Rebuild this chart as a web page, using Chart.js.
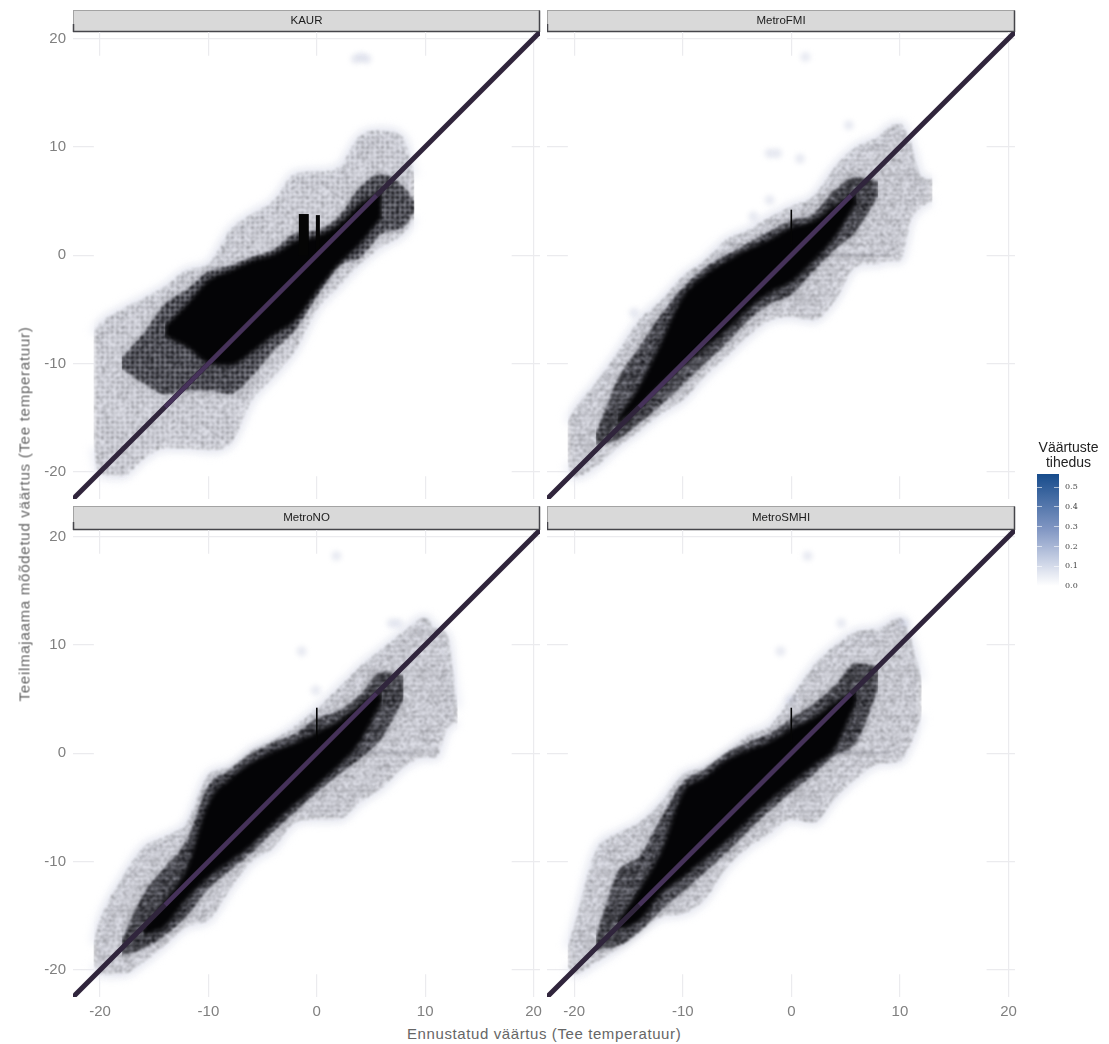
<!DOCTYPE html>
<html><head><meta charset="utf-8">
<script src="https://cdn.jsdelivr.net/npm/chart.js@4"></script>
<style>
html,body{margin:0;padding:0;background:#fff;width:1109px;height:1044px;overflow:hidden}
canvas{position:absolute;display:block}
.axt{position:absolute;font-family:"Liberation Sans",Arial,sans-serif;font-size:15px;color:#666;white-space:nowrap}
</style></head><body>
<canvas id="p0"></canvas><canvas id="p1"></canvas><canvas id="p2"></canvas><canvas id="p3"></canvas><canvas id="lg"></canvas>
<div class="axt" id="xt" style="left:407px;top:1025px;letter-spacing:.6px">Ennustatud väärtus (Tee temperatuur)</div>
<div class="axt" id="yt" style="left:24px;top:514px;transform:translate(-50%,-50%) rotate(-90deg);letter-spacing:.74px">Teeilmajaama mõõdetud väärtus (Tee temperatuur)</div>
<script>
const _ = null;
const panelNames = ['KAUR','MetroFMI','MetroNO','MetroSMHI'];
const axisTicks = [-20,-10,0,10,20];
const legendTicks = [0,0.1,0.2,0.3,0.4,0.5];
const legendMax = [0.567];
const axisMin = -22.5, axisMax = 20.6;
const diagonalX = [-22.5,20.6];
const diagonalInnerX = [-14,5.5];
const rasterX = [-20.6,18];
const rasterLo = [-20.4,-20.4];
const rasterHi = [18.4,18.4];
const gridX = [-20.6,-20,-18,-16,-14,-12,-10,-8,-6,-4,-2,0,2,4,6,8,9,10,11,12,13];

const kaurSparseHi = [-7.2,-6.3,-5,-4,-2.9,-1.4,-0.8,2.3,3.8,5,7.5,7.7,8.1,11,11.5,10.8,7.2];
const kaurSparseLo = [-17.8,-20.2,-20.4,-18.8,-17.8,-17.8,-18,-17.4,-13.4,-11.2,-8.8,-5,-2.9,-0.8,0.8,2,3.5];
const kaurDenseHi = [_,_,-9.5,-7.2,-4.5,-3.2,-1.5,-1,-0.2,0.5,2,2.3,3.5,6.3,7.5,6.3,5];
const kaurDenseLo = [_,_,-10.5,-11.8,-12.8,-12.5,-12.5,-12.8,-11.2,-8.8,-6.9,-3.8,-1,-0.2,2,2.6,4];
const kaurSolidHi = [_,_,_,_,-6.5,-4.5,-2.3,-1.4,-0.5,0.1,1.3,1.8,2.9,4.8,6];
const kaurSolidLo = [_,_,_,_,-7.5,-8.5,-10,-10.2,-9,-7.4,-6.1,-3.4,-0.9,1,3.5];

const fmiSparseHi = [-15.5,-14.3,-11.8,-9,-6,-4.2,-2,-0.5,1.4,2.3,3.5,4.5,5.4,8.1,10,10.9,11.8,12.1,10.3,7.2,7];
const fmiSparseLo = [-19.2,-20.5,-19.5,-17.7,-16.2,-14.6,-13.4,-11.2,-9.4,-7.5,-6,-5.7,-6,-4.2,-1,-0.8,-0.5,-0.5,3.2,4.5,5];
const fmiDenseHi = [_,_,-16.5,-11.5,-8.5,-5.5,-3,-1.2,0,1.1,2.2,3.2,3.8,6,7.2,6.8];
const fmiDenseLo = [_,_,-17.5,-17,-15.5,-13.8,-12,-10,-8.2,-6,-4.5,-3.6,-1.5,0.5,2.3,5.5];
const fmiSolidHi = [_,_,_,-15,-12,-8,-3.8,-1.8,-0.5,0.6,1.5,2.6,3.2,4.6,5.8];
const fmiSolidLo = [_,_,_,-15.6,-14,-12,-10.2,-8.6,-7,-5,-3.5,-2.5,-0.6,1.6,4.8];

const noSparseHi = [-17.6,-15.4,-11.6,-8.7,-7.7,-6.4,-2,-1.3,0.3,1.2,2.5,4.1,6,8,9.6,11.2,_,12.5,11.5,10.9,4.1];
const noSparseLo = [-19.5,-20.4,-20.4,-19.3,-17.7,-16,-15.4,-12.5,-10,-8.7,-6.4,-6.1,-6.1,-4.5,-3.2,-1.3,_,-0.4,-0.4,2.2,2.9];
const noDenseHi = [_,_,-17.3,-13,-10.5,-8,-3,-1.5,0,1,1.8,3.2,3.9,5.4,7.5,7.2];
const noDenseLo = [_,_,-18.7,-18,-16.8,-15,-12.5,-10.8,-9.2,-7.2,-5.4,-3.6,-2,-0.5,1.4,5];
const noSolidHi = [_,_,_,-16,-13.5,-10.5,-4.5,-2.3,-0.8,0.2,1,2,3,4.5,5.8];
const noSolidLo = [_,_,_,-16.8,-16,-13.5,-11.5,-10,-8.5,-6.5,-4.7,-3,-1.2,1,4.8];

const smhiSparseHi = [-18,-16,-9,-7.4,-6.4,-4.5,-2,-1.3,0,1.6,2.5,5.1,8,9.9,11.2,11.5,_,12.5,10.5,6.7];
const smhiSparseLo = [-19.6,-20.4,-19.3,-18,-16.4,-15.1,-14.8,-13.5,-10.6,-8.7,-7.4,-6.1,-6.4,-4.2,-2.3,-1,_,-0.7,0.9,3.5];
const smhiDenseHi = [_,_,-17,-11,-9.5,-6,-2.7,-1.5,0,1,1.8,3.2,4.5,6.2,8.3,8];
const smhiDenseLo = [_,_,-18.2,-17.8,-16.5,-14.5,-12.8,-11,-9.2,-7.2,-5.3,-3.6,-2,-0.2,1,6];
const smhiSolidHi = [_,_,_,-15.5,-12.5,-9,-3.6,-2.2,-0.6,0.3,1.1,2.3,3.3,4.7,6];
const smhiSolidLo = [_,_,_,-16.3,-15.5,-13,-11.5,-9.8,-8.2,-6.2,-4.4,-2.8,-1.2,0.4,4.6];

const kaurOutX = [4.1,3.6,4.6], kaurOutY = [18.3,18.1,18.1];
const fmiOutX = [1.3,-2,-1.3,0.8,5.3,-2,-3.5,-14.5], fmiOutY = [18.3,9.4,9.4,8.9,12,5.1,3.6,-5.3];
const noOutX = [1.8,-1.4,6.9,7.5,-0.1], noOutY = [18.2,9.4,12,12,5.8];
const smhiOutX = [1.5,-1,4.6,10.4,-0.1], smhiOutY = [18.2,9.4,12,12,4.9];

const kaurSpikeX = [[-1.2,-1.2],[0.1,0.1]], kaurSpikeY = [[0,3.8],[0,3.7]], kaurSpikeW = [10,4];
const metroSpikeX = [[0,0]], metroSpikeY = [[1,4.2]], metroSpikeW = [1.6];
const metroStreakX = [2.5,9], metroStreakY = [0,0];

const tile = (w,h,paint)=>{const c=document.createElement('canvas');c.width=w;c.height=h;paint(c.getContext('2d'));return c.getContext('2d').createPattern(c,'repeat');};
const grainTile = (kind,base,ink,density)=>tile(120,120,g=>{
 let s=7;const r=()=>(s=(s*16807)%2147483647)/2147483647;
 g.fillStyle=`rgba(8,8,18,${base})`;g.fillRect(0,0,120,120);
 g.fillStyle=`rgba(0,0,4,${ink})`;
 for(let y=0;y<120;y++){
  const rowK=kind==='streak'?[1.8,.5,.4,1.5,.5][y%5]*(.6+.8*r()):1;
  for(let x=0;x<120;x++){
   const cellK=kind==='mesh'?((x%5>0&&x%5<4&&y%5>0&&y%5<4)?1.9:.25):1;
   if(r()<density*rowK*cellK) g.fillRect(x,y,1,1);
  }}
});

const band = (ys)=>gridX.map((x,i)=>ys[i]==null?null:{x,y:ys[i]}).filter(Boolean);
const pts = (xs,ys)=>xs.map((x,i)=>({x,y:ys[i]}));

const panels = [
 {id:'p0',sHi:kaurSparseHi,sLo:kaurSparseLo,dHi:kaurDenseHi,dLo:kaurDenseLo,cHi:kaurSolidHi,cLo:kaurSolidLo,oX:kaurOutX,oY:kaurOutY,spX:kaurSpikeX,spY:kaurSpikeY,spW:kaurSpikeW,kind:'mesh'},
 {id:'p1',sHi:fmiSparseHi,sLo:fmiSparseLo,dHi:fmiDenseHi,dLo:fmiDenseLo,cHi:fmiSolidHi,cLo:fmiSolidLo,oX:fmiOutX,oY:fmiOutY,spX:metroSpikeX,spY:metroSpikeY,spW:metroSpikeW,kind:'streak',streak:true},
 {id:'p2',sHi:noSparseHi,sLo:noSparseLo,dHi:noDenseHi,dLo:noDenseLo,cHi:noSolidHi,cLo:noSolidLo,oX:noOutX,oY:noOutY,spX:metroSpikeX,spY:metroSpikeY,spW:metroSpikeW,kind:'streak',streak:true},
 {id:'p3',sHi:smhiSparseHi,sLo:smhiSparseLo,dHi:smhiDenseHi,dLo:smhiDenseLo,cHi:smhiSolidHi,cLo:smhiSolidLo,oX:smhiOutX,oY:smhiOutY,spX:metroSpikeX,spY:metroSpikeY,spW:metroSpikeW,kind:'streak',streak:true}
];
const placement = [
 {left:0,top:10,w:547,h:489,yW:73,xH:0.01,pad:4},
 {left:547,top:10,w:475,h:489,yW:0.01,xH:0.01,pad:4},
 {left:0,top:506,w:547,h:518,yW:73,xH:27,pad:5},
 {left:547,top:506,w:475,h:518,yW:0.01,xH:27,pad:5}
];

const noMargins = s=>{s.paddingLeft=s.paddingRight=s.paddingTop=s.paddingBottom=0;};
const blurPlugin = {id:'blurLayers',
 beforeDatasetsDraw(c){const ds=c.data.datasets;c.ctx.filter=ds[ds.length-1].blurPx?`blur(${ds[ds.length-1].blurPx}px)`:'none';},
 afterDatasetDraw(c,a){const n=c.data.datasets[a.index-1];c.ctx.filter=n&&n.blurPx?`blur(${n.blurPx}px)`:'none';},
 afterDatasetsDraw(c){c.ctx.filter='none';}
};
const stripPlugin = {id:'stripBox',beforeDraw(c){
 const g=c.ctx,a=c.chartArea,b=c.titleBlock.bottom;
 g.save();g.fillStyle='#d9d9d9';g.fillRect(a.left+.5,.5,a.right-a.left-1,b-1);
 g.strokeStyle='#a3a3a3';g.lineWidth=1;g.strokeRect(a.left+.5,.5,a.right-a.left-1,b-1);
 g.strokeStyle='#45454a';g.lineWidth=1.5;g.beginPath();g.moveTo(a.left,b-.5);g.lineTo(a.right,b-.5);g.moveTo(a.left+.5,b);g.lineTo(a.left+.5,b-8);g.moveTo(a.right-.5,b);g.lineTo(a.right-.5,.5);g.stroke();
 g.restore();
}};

panels.forEach((p,i)=>{
 const pl=placement[i], el=document.getElementById(p.id);
 el.style.left=pl.left+'px';el.style.top=pl.top+'px';el.style.width=pl.w+'px';el.style.height=pl.h+'px';
 el.width=pl.w;el.height=pl.h;
 const sparseFill=grainTile(p.kind,.03,.36,.32);
 const denseFill=grainTile(p.kind,.26,.8,.58);
 const line=(data,o)=>Object.assign({data,borderColor:'transparent',borderWidth:0,pointRadius:0,cubicInterpolationMode:'monotone',fill:false},o);
 const layer=(hi,lo,bg,blur,extra)=>[line(band(hi),Object.assign({backgroundColor:bg,fill:'+1',blurPx:blur},extra||{})),line(band(lo),Object.assign({blurPx:blur},extra||{}))];
 const ds=[];
 ds.push(line(pts(diagonalInnerX,diagonalInnerX),{borderColor:'#46325a',borderWidth:4.2}));
 ds.push(line(pts(diagonalX,diagonalX),{borderColor:'#30253c',borderWidth:5}));
 p.spX.forEach((sx,k)=>ds.push(line(pts(sx,p.spY[k]),{borderColor:'#050505',borderWidth:p.spW[k]})));
 ds.push(...layer(p.cHi,p.cLo,'#040406',2));
 ds.push(...layer(p.dHi,p.dLo,denseFill,.8));
 ds.push(...layer(p.dHi,p.dLo,'rgba(5,5,10,.18)',4));
 if(p.streak) ds.push(line(pts(metroStreakX,metroStreakY),{borderColor:'rgba(10,10,25,.2)',borderWidth:1.6,blurPx:.8}));
 ds.push(...layer(p.sHi,p.sLo,sparseFill,.9));
 ds.push(...layer(p.sHi,p.sLo,'rgba(20,20,45,.05)',4));
 ds.push(line(pts(p.oX,p.oY),{showLine:false,pointRadius:5,pointBackgroundColor:'rgba(198,202,222,.4)',pointBorderWidth:0,blurPx:2.5}));
 ds.push(...layer(p.sHi,p.sLo,'#f0f1f8',4,{borderColor:'#eceef6',borderWidth:8}));
 ds.push(line(pts(rasterX,rasterHi),{backgroundColor:'#ffffff',fill:'+1'}));ds.push(line(pts(rasterX,rasterLo),{}));
 new Chart(el,{type:'line',data:{datasets:ds},plugins:[stripPlugin,blurPlugin],options:{
  responsive:false,animation:false,devicePixelRatio:1,
  layout:{autoPadding:false,padding:{left:0,right:7,top:0,bottom:0}},
  plugins:{legend:{display:false},tooltip:{enabled:false},
   title:{display:true,text:panelNames[i],fullSize:false,color:'#1c1c1c',font:{family:'"Liberation Sans",Arial,sans-serif',size:11.5,weight:'normal',lineHeight:'14px'},padding:{top:pl.pad,bottom:pl.pad}}},
  scales:{
   x:{type:'linear',min:axisMin,max:axisMax,afterBuildTicks:s=>{s.ticks=axisTicks.map(v=>({value:v}));},afterFit:s=>{s.height=pl.xH;noMargins(s);},
    grid:{color:'#ebebee',lineWidth:1.2,drawTicks:false},border:{display:false},
    ticks:{display:pl.xH>1,autoSkip:false,maxRotation:0,color:'#808080',padding:6,font:{family:'"Liberation Sans",Arial,sans-serif',size:15}}},
   y:{type:'linear',min:axisMin,max:axisMax,afterBuildTicks:s=>{s.ticks=axisTicks.map(v=>({value:v}));},afterFit:s=>{s.width=pl.yW;noMargins(s);},
    grid:{color:'#ebebee',lineWidth:1.2,drawTicks:false},border:{display:false},
    ticks:{display:pl.yW>1,autoSkip:false,color:'#808080',padding:7,font:{family:'"Liberation Sans",Arial,sans-serif',size:15}}}
  }}});
});

const lg=document.getElementById('lg');
lg.style.left='1020px';lg.style.top='441px';lg.style.width='89px';lg.style.height='155px';lg.width=89;lg.height=155;
new Chart(lg,{type:'bar',data:{labels:['tihedus'],datasets:[{data:legendMax,barPercentage:1,categoryPercentage:1,borderWidth:0,
 backgroundColor:c=>{const a=c.chart.chartArea;if(!a)return '#1d4f8f';const g=c.chart.ctx.createLinearGradient(0,a.bottom,0,a.top);g.addColorStop(0,'#ffffff');g.addColorStop(.12,'#e3e7f1');g.addColorStop(.5,'#8398c4');g.addColorStop(1,'#174c8c');return g;}}]},
 options:{responsive:false,animation:false,devicePixelRatio:1,layout:{autoPadding:false,padding:{left:17,top:0,bottom:10,right:9}},
  plugins:{legend:{display:false},tooltip:{enabled:false},
   title:{display:true,text:['Väärtuste','tihedus'],color:'#222',font:{family:'"Liberation Sans",Arial,sans-serif',size:14,weight:'normal',lineHeight:'15px'},padding:{top:0,bottom:3}}},
  scales:{x:{display:false},
   y:{position:'right',min:0,max:legendMax[0],afterBuildTicks:s=>{s.ticks=legendTicks.map(v=>({value:v}));},afterFit:s=>{s.width=41;noMargins(s);},
    grid:{z:1,color:'rgba(255,255,255,.6)',drawTicks:false},border:{display:false,dash:[5,12,5]},
    ticks:{autoSkip:false,color:'#444',padding:6,font:{family:'"DejaVu Serif",serif',size:8},callback:v=>v.toFixed(1)}}}}});
</script>
</body></html>
